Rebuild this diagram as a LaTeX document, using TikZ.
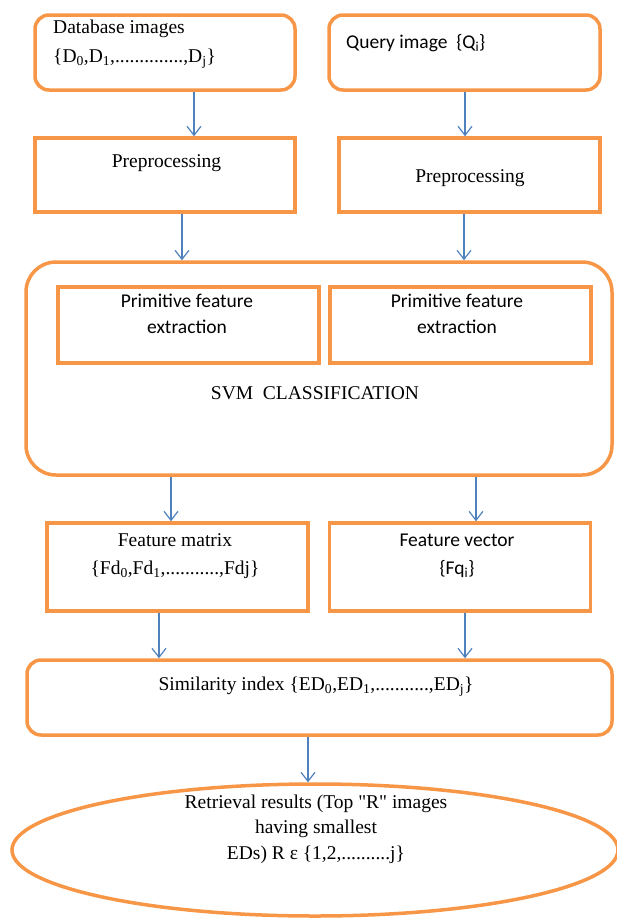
\documentclass[tikz,border=0pt]{standalone}
\usepackage{fontspec}
\setmainfont{Liberation Serif}
\newfontfamily\calibfont{Carlito}
\usetikzlibrary{arrows.meta,shapes.geometric}
\definecolor{boxorange}{HTML}{F79646}
\definecolor{linkblue}{HTML}{4F81BD}
\tikzset{box/.style={draw=boxorange, line width=3.5pt, inner sep=0pt},
  rbox/.style={box, rounded corners=14pt},
  link/.style={draw=linkblue, line width=1.2pt, -{Straight Barb[length=9pt,width=14pt]}},
  serif/.style={inner sep=0pt, font=\fontsize{19.5}{26}\selectfont, align=center},
  sans/.style={inner sep=0pt, font=\calibfont\fontsize{19.5}{26}\selectfont, align=center}}

\begin{document}
\begin{tikzpicture}[x=1pt,y=-1pt]
  \useasboundingbox (0,0) rectangle (617,918);

  \node[rbox, minimum width=260pt, minimum height=75pt] (db)  at (165,52.5) {};
  \node[rbox, minimum width=271pt, minimum height=75pt] (qry) at (464.5,52.5) {};
  \node[box, minimum width=260pt, minimum height=74pt] (prel) at (165,175) {};
  \node[box, minimum width=261pt, minimum height=74pt] (prer) at (469.5,175) {};
  \node[box, rounded corners=30pt, minimum width=586pt, minimum height=213pt] (svm) at (319,368.5) {};
  \node[box, minimum width=261pt, minimum height=76pt] (pfl) at (188.5,325) {};
  \node[box, minimum width=261pt, minimum height=76pt] (pfr) at (460.5,325) {};
  \node[box, minimum width=261pt, minimum height=88pt] (fm) at (177.5,567) {};
  \node[box, minimum width=261pt, minimum height=88pt] (fv) at (460,567) {};
  \node[rbox, minimum width=585pt, minimum height=75pt] (sim) at (319.5,697.5) {};
  \node[box, ellipse, minimum width=606pt, minimum height=132pt] (res) at (315,850) {};

  \node[serif, align=left, anchor=west, font=\fontsize{19.5}{29}\selectfont] (dbtxt) at (53,44)
    {Database images\\\{D\textsubscript{0},D\textsubscript{1},..............,D\textsubscript{j}\}};
  \node[sans, anchor=west] (qrytxt) at (346,43) {Query image\ \ \{Q\textsubscript{i}\}};
  \node[serif] (preltxt) at (166.5,163) {Preprocessing};
  \node[serif] (prertxt) at (470,178) {Preprocessing};
  \node[sans] (pfltxt) at (187,314) {Primitive feature\\extraction};
  \node[sans] (pfrtxt) at (457,314) {Primitive feature\\extraction};
  \node[serif] (svmtxt) at (315,393) {SVM\ \ CLASSIFICATION};
  \node[serif, font=\fontsize{19.5}{28}\selectfont] (fmtxt) at (175,556)
    {Feature matrix\\\{Fd\textsubscript{0},Fd\textsubscript{1},...........,Fdj\}};
  \node[sans, font=\calibfont\fontsize{19.5}{28}\selectfont] (fvtxt) at (457,556) {Feature vector\\\{Fq\textsubscript{i}\}};
  \node[serif] (simtxt) at (316,687)
    {Similarity index \{ED\textsubscript{0},ED\textsubscript{1},...........,ED\textsubscript{j}\}};
  \node[serif, font=\fontsize{19.5}{25.5}\selectfont] (restxt) at (316,829)
    {Retrieval results (Top \textquotedbl R\textquotedbl\ images\\having smallest\\EDs) R ε \{1,2,..........j\}};

  \draw[link] ([xshift=29pt]db.south) -- ([xshift=29pt]prel.north);
  \draw[link] ([xshift=0.5pt]qry.south) -- ([xshift=-4.5pt]prer.north);
  \draw[link] ([xshift=17pt]prel.south) -- ([xshift=-137pt]svm.north);
  \draw[link] ([xshift=-5.5pt]prer.south) -- ([xshift=145pt]svm.north);
  \draw[link] ([xshift=-148pt]svm.south) -- ([xshift=-6.5pt]fm.north);
  \draw[link] ([xshift=157pt]svm.south) -- ([xshift=16pt]fv.north);
  \draw[link] ([xshift=-18.5pt]fm.south) -- ([xshift=-160.5pt]sim.north);
  \draw[link] ([xshift=5pt]fv.south) -- ([xshift=145.5pt]sim.north);
  \draw[link] ([xshift=-11.5pt]sim.south) -- ([xshift=-7pt]res.north);
\end{tikzpicture}
\end{document}
